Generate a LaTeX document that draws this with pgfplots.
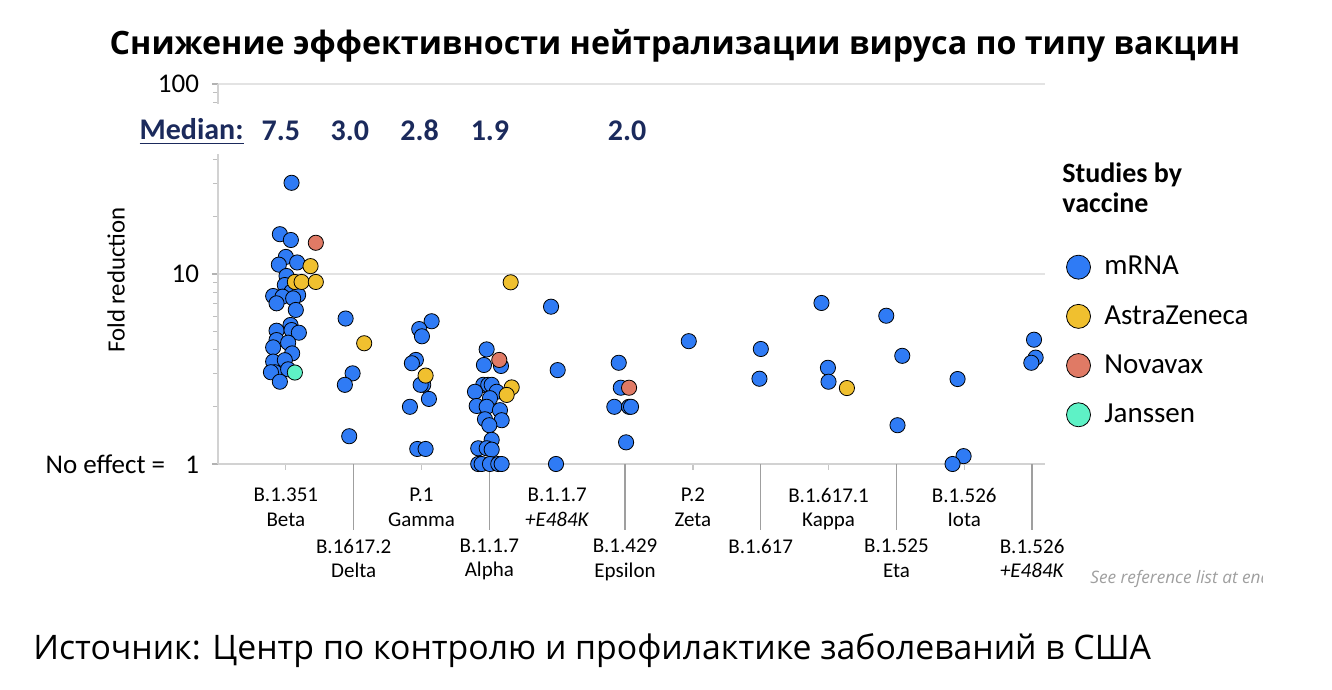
\documentclass[border=0pt]{standalone}
\usepackage{fontspec}
\usepackage{pgfplots}
\pgfplotsset{compat=1.18}
\usepackage{pgfplotstable}
\setmainfont{Carlito}
\newfontfamily\osfont{Open Sans}
\definecolor{mrna}{HTML}{2F7BF5}
\definecolor{az}{HTML}{F0C02F}
\definecolor{nova}{HTML}{E07A65}
\definecolor{jans}{HTML}{5EF2C6}
\definecolor{navy}{HTML}{1B2A5C}

\pgfplotstableread{
x y
0.084 30.2
-0.088 16.2
0.074 15.1
0 12.3
-0.103 11.2
0.167 11.5
0.010 9.76
-0.015 8.75
0.084 8.07
-0.187 7.66
-0.049 7.6
0.181 7.76
-0.137 7.01
0.108 7.44
0.147 6.47
0.069 5.39
-0.137 5.03
0.084 5.07
0.192 4.91
-0.137 4.49
-0.187 4.11
0.034 4.35
0.093 3.82
-0.187 3.46
-0.015 3.52
-0.162 3.04
-0.22 3.04
0.034 3.15
-0.088 2.71
0.881 5.83
0.984 3.0
0.870 2.61
0.934 1.40
2.149 5.64
1.966 5.13
2.006 4.70
1.917 3.53
1.858 3.39
2.025 2.61
1.987 2.61
2.109 2.20
1.829 2.00
1.937 1.20
2.060 1.20
2.960 4.01
2.920 3.32
3.171 3.28
2.910 2.61
2.984 2.61
3.034 2.61
2.788 2.40
3.108 2.40
3.009 2.22
2.813 2.02
2.960 2.00
3.156 1.92
2.935 1.72
3.181 1.70
2.999 1.60
3.034 1.34
2.836 1.21
2.960 1.21
3.034 1.19
2.836 1.0
2.886 1.0
3.009 1.0
3.131 1.0
3.181 1.0
3.909 6.73
4.007 3.12
3.982 1.0
4.907 3.41
4.937 2.52
4.842 2.0
5.059 2.0
5.088 2.0
5.015 1.30
5.939 4.43
7.001 4.03
6.981 2.81
7.895 7.04
7.990 3.21
7.999 2.71
8.850 6.03
9.086 3.71
9.016 1.60
9.901 2.80
9.990 1.10
9.827 1.0
11.052 3.63
11.028 4.51
10.988 3.41
}\mrnatab

\pgfplotstableread{
x y
0.364 11.0
0.133 9.08
0.232 9.08
0.442 9.08
1.155 4.32
2.060 2.92
3.314 9.04
3.329 2.53
3.255 2.31
8.270 2.51
}\aztab

\pgfplotstableread{
x y
0.442 14.6
3.146 3.53
5.059 2.52
}\novatab

\pgfplotstableread{
x y
0.133 3.03
}\janstab

\begin{document}
\begin{tikzpicture}
\useasboundingbox (0pt,0pt) rectangle (666pt,345pt);
\begin{axis}[
  at={(109pt,113pt)}, anchor=south west,
  scale only axis, width=413.5pt, height=190pt,
  ymode=log, ymin=1, ymax=100,
  xmin=-1, xmax=11.19,
  clip=false,
  axis x line*=bottom, axis y line*=left,
  axis line style={gray!35, line width=0.8pt},
  ytick={1,10,100},
  yticklabels={{No effect = \hspace{7pt}1},10,100},
  yticklabel style={font=\fontsize{13.5}{15}\selectfont, xshift=-3pt},
  /pgf/number format/assume math mode=true,
  ymajorgrids, grid style={gray!22, line width=0.8pt},
  tick align=outside,
  major tick length=3pt, minor tick length=2.5pt,
  ytick style={gray!60, line width=0.6pt},
  minor y tick style={gray!50},
  xtick style={gray!45, line width=0.6pt},
  xtick={0,2,4,6,8,10},
  xticklabels={{B.1.351\\Beta},{P.1\\Gamma},{B.1.1.7\\\textit{+E484K}},{P.2\\Zeta},{B.1.617.1\\Kappa},{B.1.526\\Iota}},
  xticklabel style={align=center, font=\fontsize{10.5}{12.25}\selectfont, anchor=north, yshift=-5.5pt},
  extra x ticks={1,3,5,7,9,11},
  extra x tick labels={{B.1617.2\\Delta},{B.1.1.7\\Alpha},{B.1.429\\Epsilon},{B.1.617},{B.1.525\\Eta},{B.1.526\\\textit{+E484K}}},
  extra x tick style={major tick length=33pt, xtick style={gray!75, line width=0.7pt}, xticklabel style={yshift=4.5pt}},
  legend style={at={(axis description cs:1.0194,0.558)}, anchor=north west, draw=none, fill=none,
    font=\fontsize{14.5}{16}\selectfont, row sep=9.8pt, inner sep=0pt},
  legend cell align=left,
  legend image code/.code={\draw[#1, mark size=6pt] plot coordinates {(0.3cm,0cm)}; \path[draw=none] (0cm,0cm) -- (0.685cm,0cm);},
  every axis plot/.append style={only marks, mark=*, mark size=3.8pt,
    mark options={draw=black!85, line width=0.6pt}},
]
\addplot[mark options={fill=mrna}] table[x=x,y=y] {\mrnatab};
\addlegendentry{mRNA}
\addplot[mark options={fill=az}] table[x=x,y=y] {\aztab};
\addlegendentry{AstraZeneca}
\addplot[mark options={fill=nova}] table[x=x,y=y] {\novatab};
\addlegendentry{Novavax}
\addplot[mark options={fill=jans}] table[x=x,y=y] {\janstab};
\addlegendentry{Janssen}

\node[anchor=base, text=navy, font=\bfseries\fontsize{15}{18}\selectfont] at (axis cs:-0.074,50.7) {7.5};
\node[anchor=base, text=navy, font=\bfseries\fontsize{15}{18}\selectfont] at (axis cs:0.944,50.7) {3.0};
\node[anchor=base, text=navy, font=\bfseries\fontsize{15}{18}\selectfont] at (axis cs:1.973,50.7) {2.8};
\node[anchor=base, text=navy, font=\bfseries\fontsize{15}{18}\selectfont] at (axis cs:3.009,50.7) {1.9};
\node[anchor=base, text=navy, font=\bfseries\fontsize{15}{18}\selectfont] at (axis cs:5.03,50.7) {2.0};
\end{axis}

\fill[white] (60pt,268pt) rectangle (124pt,293pt);
\node[anchor=base east, text=navy, inner xsep=1pt, inner ysep=0pt,
  font=\bfseries\fontsize{15}{18}\selectfont] at (123pt,275pt) {\underline{Median:}};

\node[rotate=90, font=\fontsize{12.4}{14}\selectfont] at (58pt,205pt) {Fold reduction};

\node[anchor=north west, align=left, inner sep=0pt, font=\bfseries\fontsize{14}{15}\selectfont]
  at (531pt,264pt) {Studies by\\vaccine};

\node[font=\osfont\bfseries\fontsize{16.1}{20}\selectfont] at (337.5pt,322pt)
  {Снижение эффективности нейтрализации вируса по типу вакцин};

\node[anchor=west, inner sep=0pt, font=\osfont\fontsize{16.9}{21}\selectfont] at (16.5pt,19.5pt)
  {Источник: Центр по контролю и профилактике заболеваний в США};

\begin{scope}
\clip (540pt,40pt) rectangle (631pt,70pt);
\node[anchor=west, inner sep=0pt, gray!75, font=\osfont\itshape\fontsize{8.6}{10}\selectfont] at (545pt,55.5pt)
  {See reference list at end};
\end{scope}
\end{tikzpicture}
\end{document}
